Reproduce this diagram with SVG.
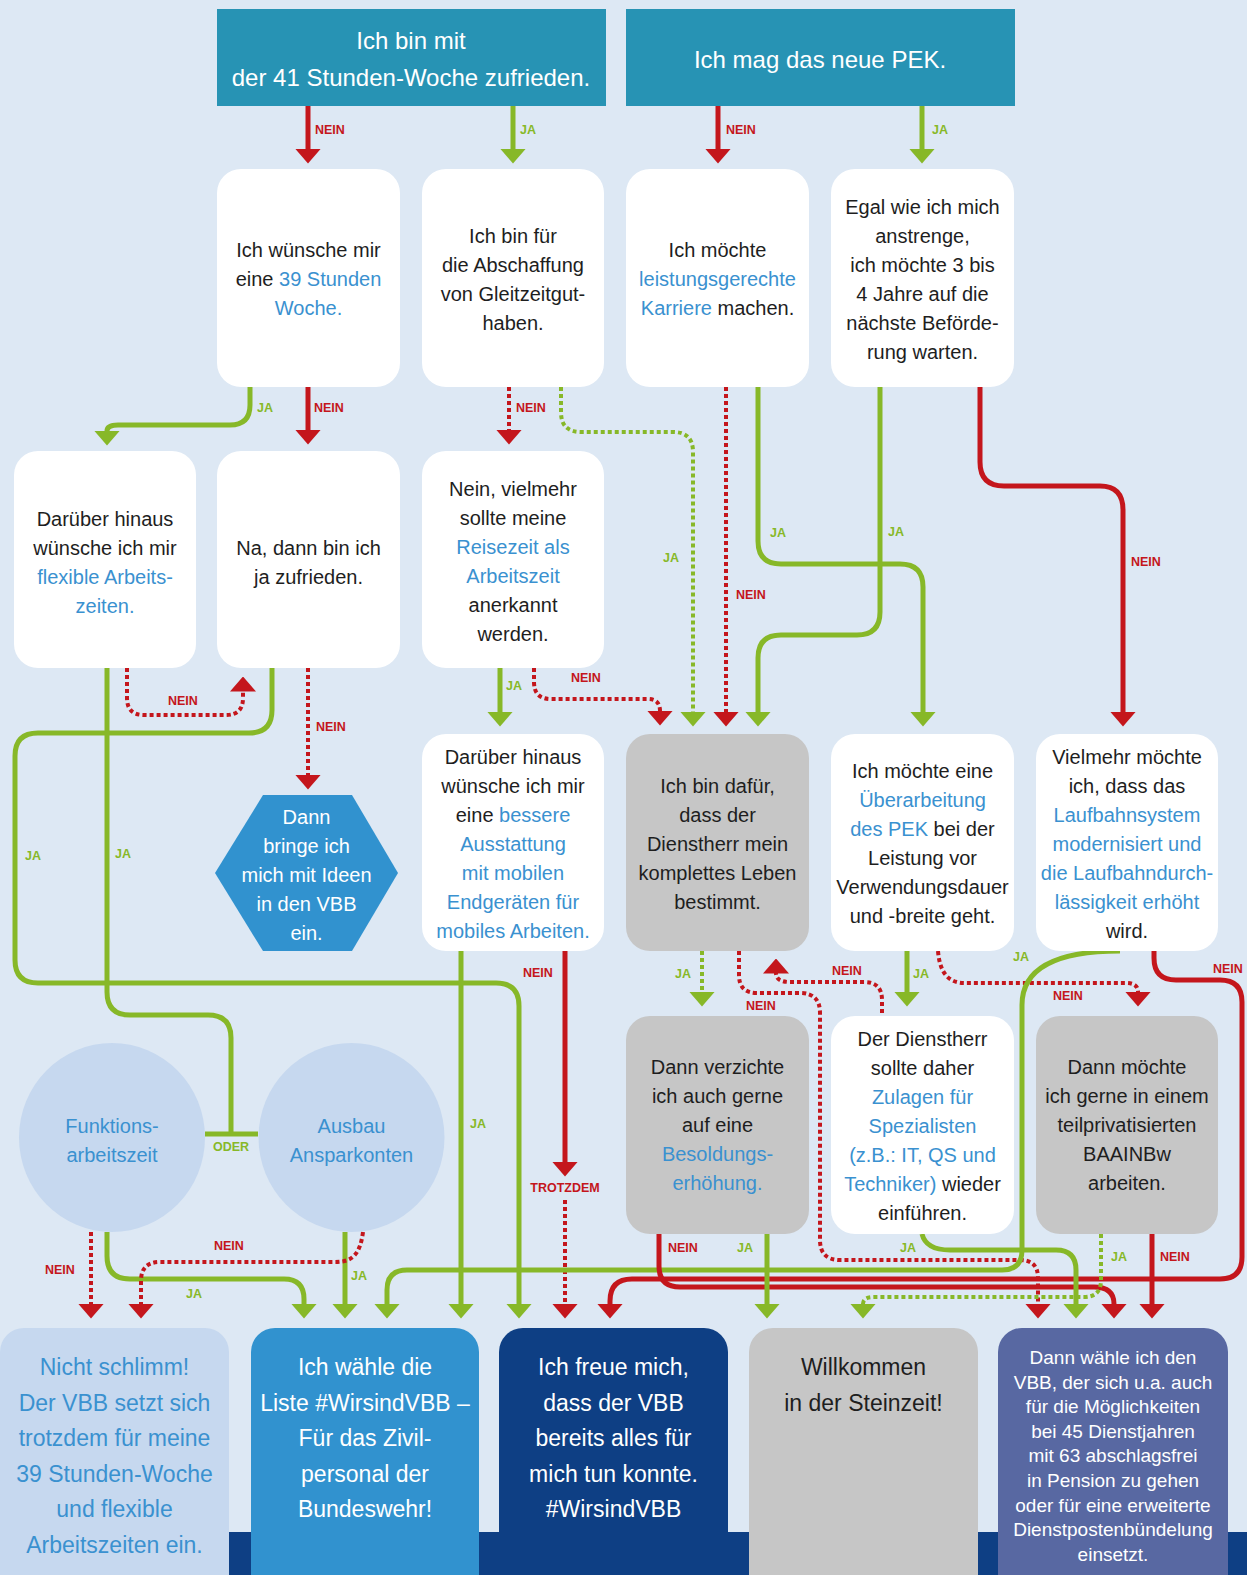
<svg xmlns="http://www.w3.org/2000/svg" width="1247" height="1575" viewBox="0 0 1247 1575">
<defs>
<style>
.t{font-family:"Liberation Sans",Arial,sans-serif;font-size:20px;fill:#1e1e1e;text-anchor:middle}
.w{fill:#ffffff}
.hl{fill:#3a91d0}
.big{font-size:23px}
.top{font-size:24px;fill:#ffffff}
.e5{font-size:19px;fill:#ffffff}
.box{fill:#ffffff}
.grey{fill:#c6c6c6}
.lbl{font-family:"Liberation Sans",Arial,sans-serif;font-size:12.5px;font-weight:bold}
.ln{fill:#c4161c}
.lj{fill:#87b828}
.r{fill:none;stroke:#c4161c;stroke-width:5}
.g{fill:none;stroke:#87b828;stroke-width:5}
.rd{fill:none;stroke:#c4161c;stroke-width:4;stroke-dasharray:4 3}
.gd{fill:none;stroke:#87b828;stroke-width:4;stroke-dasharray:4 3}
.ra{marker-end:url(#ar)}
.ga{marker-end:url(#ag)}
</style>
<marker id="ar" viewBox="0 0 15 26" refX="0.5" refY="13" markerWidth="15" markerHeight="26" markerUnits="userSpaceOnUse" orient="auto"><path d="M0,0 L15,13 L0,26 Z" fill="#c4161c"/></marker>
<marker id="ag" viewBox="0 0 15 26" refX="0.5" refY="13" markerWidth="15" markerHeight="26" markerUnits="userSpaceOnUse" orient="auto"><path d="M0,0 L15,13 L0,26 Z" fill="#87b828"/></marker>
</defs>
<rect x="0" y="0" width="1247" height="1575" fill="#dde8f4"/>
<rect x="0" y="1532" width="1247" height="43" fill="#0e3f84"/>

<g id="connectors">
<path class="r ra" d="M308,106 V149"/>
<path class="g ga" d="M513,106 V149"/>
<path class="r ra" d="M718,106 V149"/>
<path class="g ga" d="M922,106 V149"/>
<path class="g ga" d="M250,387 V405 Q250,425 230,425 H118 Q107,425 107,431"/>
<path class="r ra" d="M308,387 V430"/>
<path class="rd ra" d="M509,387 V430"/>
<path class="gd ga" d="M561,387 V412 Q561,432 581,432 H673 Q693,432 693,452 V712"/>
<path class="rd ra" d="M726,387 V712"/>
<path class="g ga" d="M758,387 V541 Q758,564 781,564 H900 Q923,564 923,587 V712"/>
<path class="g ga" d="M880,387 V612 Q880,635 857,635 H781 Q758,635 758,658 V712"/>
<path class="r ra" d="M980,387 V462 Q980,486 1004,486 H1100 Q1123,486 1123,510 V712"/>
<path class="g" d="M107,668 V992 Q107,1015 130,1015 H208 Q231,1015 231,1038 V1134"/>
<path class="g" stroke-width="6" d="M205,1134 H258"/>
<path class="rd ra" d="M127,668 V698 Q127,715 144,715 H226 Q243,715 243,698 V691"/>
<path class="g ga" d="M272,668 V710 Q272,733 249,733 H38 Q15,733 15,756 V960 Q15,983 38,983 H496 Q519,983 519,1006 V1304"/>
<path class="rd ra" d="M308,668 V775"/>
<path class="g ga" d="M500,668 V712"/>
<path class="rd ra" d="M534,668 V682 Q534,699 551,699 H648 Q660,699 660,711"/>
<path class="g ga" d="M461,951 V1304"/>
<path class="r ra" d="M565,951 V1162"/>
<path class="rd ra" d="M565,1200 V1304"/>
<path class="gd ga" d="M702,951 V992"/>
<path class="rd ra" d="M739,951 V975 Q739,993 757,993 H800 Q820,993 820,1013 V1240 Q820,1260 840,1260 H1020 Q1038,1260 1038,1278 V1304"/>
<path class="rd ra" d="M882,1013 V1000 Q882,982 864,982 H790 Q776,982 776,973"/>
<path class="g ga" d="M907,951 V992"/>
<path class="rd ra" d="M938,951 C940,975 950,983 965,983 H1126 Q1138,983 1138,992"/>
<path class="g ga" d="M1120,951 Q1022,951 1022,1005 V1250 Q1022,1270 1002,1270 H407 Q387,1270 387,1290 V1304"/>
<path class="r ra" d="M1154,951 V958 Q1154,980 1176,980 H1220 Q1242,980 1242,1002 V1257 Q1242,1279 1220,1279 H632 Q610,1279 610,1301 V1304"/>
<path class="rd ra" d="M91,1232 V1304"/>
<path class="g ga" d="M107,1232 V1256 Q107,1279 130,1279 H284 Q304,1279 304,1299 V1304"/>
<path class="g ga" d="M345,1232 V1304"/>
<path class="rd ra" d="M363,1232 C360,1255 352,1262 335,1262 H160 Q141,1262 141,1281 V1304"/>
<path class="r ra" d="M659,1234 V1266 Q659,1287 680,1287 H1094 Q1114,1287 1114,1304"/>
<path class="g ga" d="M767,1234 V1304"/>
<path class="g ga" d="M922,1234 Q926,1250 950,1250 H1056 Q1076,1250 1076,1270 V1304"/>
<path class="gd ga" d="M1101,1234 V1280 Q1101,1297 1084,1297 H874 Q863,1297 863,1304"/>
<path class="r ra" d="M1152,1234 V1304"/>

<text class="lbl ln" x="315" y="134">NEIN</text>
<text class="lbl lj" x="520" y="134">JA</text>
<text class="lbl ln" x="726" y="134">NEIN</text>
<text class="lbl lj" x="932" y="134">JA</text>
<text class="lbl lj" x="257" y="412">JA</text>
<text class="lbl ln" x="314" y="412">NEIN</text>
<text class="lbl ln" x="516" y="412">NEIN</text>
<text class="lbl lj" x="663" y="562">JA</text>
<text class="lbl ln" x="736" y="599">NEIN</text>
<text class="lbl lj" x="770" y="537">JA</text>
<text class="lbl lj" x="888" y="536">JA</text>
<text class="lbl ln" x="1131" y="566">NEIN</text>
<text class="lbl ln" x="168" y="705">NEIN</text>
<text class="lbl ln" x="316" y="731">NEIN</text>
<text class="lbl lj" x="25" y="860">JA</text>
<text class="lbl lj" x="115" y="858">JA</text>
<text class="lbl lj" x="506" y="690">JA</text>
<text class="lbl ln" x="571" y="682">NEIN</text>
<text class="lbl lj" x="470" y="1128">JA</text>
<text class="lbl ln" x="523" y="977">NEIN</text>
<text class="lbl ln" x="565" y="1192" text-anchor="middle">TROTZDEM</text>
<text class="lbl lj" x="231" y="1151" text-anchor="middle">ODER</text>
<text class="lbl ln" x="45" y="1274">NEIN</text>
<text class="lbl lj" x="186" y="1298">JA</text>
<text class="lbl ln" x="214" y="1250">NEIN</text>
<text class="lbl lj" x="351" y="1280">JA</text>
<text class="lbl lj" x="675" y="978">JA</text>
<text class="lbl ln" x="746" y="1010">NEIN</text>
<text class="lbl ln" x="832" y="975">NEIN</text>
<text class="lbl lj" x="913" y="978">JA</text>
<text class="lbl ln" x="1053" y="1000">NEIN</text>
<text class="lbl lj" x="1013" y="961">JA</text>
<text class="lbl ln" x="1213" y="973">NEIN</text>
<text class="lbl ln" x="668" y="1252">NEIN</text>
<text class="lbl lj" x="737" y="1252">JA</text>
<text class="lbl lj" x="900" y="1252">JA</text>
<text class="lbl lj" x="1111" y="1261">JA</text>
<text class="lbl ln" x="1160" y="1261">NEIN</text>
</g>

<g id="n-top1">
<rect x="217" y="9" width="389" height="97" fill="#2793b4"/>
<text class="t top" x="411" y="49">Ich bin mit<tspan x="411" dy="37">der 41 Stunden-Woche zufrieden.</tspan></text>
</g>
<g id="n-top2">
<rect x="626" y="9" width="389" height="97" fill="#2793b4"/>
<text class="t top" x="820" y="68">Ich mag das neue PEK.</text>
</g>

<g id="n-w1">
<rect class="box" x="217" y="169" width="183" height="218" rx="24"/>
<text class="t" x="308.5" y="257">Ich wünsche mir<tspan x="308.5" dy="29">eine <tspan class="hl">39 Stunden</tspan></tspan><tspan x="308.5" dy="29" class="hl">Woche.</tspan></text>
</g>
<g id="n-w2">
<rect class="box" x="422" y="169" width="182" height="218" rx="24"/>
<text class="t" x="513" y="243">Ich bin für<tspan x="513" dy="29">die Abschaffung</tspan><tspan x="513" dy="29">von Gleitzeitgut-</tspan><tspan x="513" dy="29">haben.</tspan></text>
</g>
<g id="n-w3">
<rect class="box" x="626" y="169" width="183" height="218" rx="24"/>
<text class="t" x="717.5" y="257">Ich möchte<tspan x="717.5" dy="29" class="hl">leistungsgerechte</tspan><tspan x="717.5" dy="29"><tspan class="hl">Karriere</tspan> machen.</tspan></text>
</g>
<g id="n-w4">
<rect class="box" x="831" y="169" width="183" height="218" rx="24"/>
<text class="t" x="922.5" y="214">Egal wie ich mich<tspan x="922.5" dy="29">anstrenge,</tspan><tspan x="922.5" dy="29">ich möchte 3 bis</tspan><tspan x="922.5" dy="29">4 Jahre auf die</tspan><tspan x="922.5" dy="29">nächste Beförde-</tspan><tspan x="922.5" dy="29">rung warten.</tspan></text>
</g>

<g id="n-r2a">
<rect class="box" x="14" y="451" width="182" height="217" rx="24"/>
<text class="t" x="105" y="526">Darüber hinaus<tspan x="105" dy="29">wünsche ich mir</tspan><tspan x="105" dy="29" class="hl">flexible Arbeits-</tspan><tspan x="105" dy="29" class="hl">zeiten.</tspan></text>
</g>
<g id="n-r2b">
<rect class="box" x="217" y="451" width="183" height="217" rx="24"/>
<text class="t" x="308.5" y="555">Na, dann bin ich<tspan x="308.5" dy="29">ja zufrieden.</tspan></text>
</g>
<g id="n-r2c">
<rect class="box" x="422" y="451" width="182" height="217" rx="24"/>
<text class="t" x="513" y="496">Nein, vielmehr<tspan x="513" dy="29">sollte meine</tspan><tspan x="513" dy="29" class="hl">Reisezeit als</tspan><tspan x="513" dy="29" class="hl">Arbeitszeit</tspan><tspan x="513" dy="29">anerkannt</tspan><tspan x="513" dy="29">werden.</tspan></text>
</g>

<g id="n-hex">
<polygon points="263,795 352,795 398,873 352,951 263,951 215,873" fill="#3192cf"/>
<text class="t w" x="306.5" y="824">Dann<tspan x="306.5" dy="29">bringe ich</tspan><tspan x="306.5" dy="29">mich mit Ideen</tspan><tspan x="306.5" dy="29">in den VBB</tspan><tspan x="306.5" dy="29">ein.</tspan></text>
</g>

<g id="n-r3a">
<rect class="box" x="422" y="734" width="182" height="217" rx="24"/>
<text class="t" x="513" y="764">Darüber hinaus<tspan x="513" dy="29">wünsche ich mir</tspan><tspan x="513" dy="29">eine <tspan class="hl">bessere</tspan></tspan><tspan x="513" dy="29" class="hl">Ausstattung</tspan><tspan x="513" dy="29" class="hl">mit mobilen</tspan><tspan x="513" dy="29" class="hl">Endgeräten für</tspan><tspan x="513" dy="29" class="hl">mobiles Arbeiten.</tspan></text>
</g>
<g id="n-r3b">
<rect class="grey" x="626" y="734" width="183" height="217" rx="24"/>
<text class="t" x="717.5" y="793">Ich bin dafür,<tspan x="717.5" dy="29">dass der</tspan><tspan x="717.5" dy="29">Dienstherr mein</tspan><tspan x="717.5" dy="29">komplettes Leben</tspan><tspan x="717.5" dy="29">bestimmt.</tspan></text>
</g>
<g id="n-r3c">
<rect class="box" x="831" y="734" width="183" height="217" rx="24"/>
<text class="t" x="922.5" y="778">Ich möchte eine<tspan x="922.5" dy="29" class="hl">Überarbeitung</tspan><tspan x="922.5" dy="29"><tspan class="hl">des PEK</tspan> bei der</tspan><tspan x="922.5" dy="29">Leistung vor</tspan><tspan x="922.5" dy="29">Verwendungsdauer</tspan><tspan x="922.5" dy="29">und -breite geht.</tspan></text>
</g>
<g id="n-r3d">
<rect class="box" x="1036" y="734" width="182" height="217" rx="24"/>
<text class="t" x="1127" y="764">Vielmehr möchte<tspan x="1127" dy="29">ich, dass das</tspan><tspan x="1127" dy="29" class="hl">Laufbahnsystem</tspan><tspan x="1127" dy="29" class="hl">modernisiert und</tspan><tspan x="1127" dy="29" class="hl">die Laufbahndurch-</tspan><tspan x="1127" dy="29" class="hl">lässigkeit erhöht</tspan><tspan x="1127" dy="29">wird.</tspan></text>
</g>

<g id="n-funktion">
<ellipse cx="112" cy="1137.5" rx="93" ry="94.5" fill="#c6d8ef"/>
<text class="t hl" x="112" y="1133">Funktions-<tspan x="112" dy="29">arbeitszeit</tspan></text>
</g>
<g id="n-ausbau">
<ellipse cx="351.5" cy="1137.5" rx="93" ry="94.5" fill="#c6d8ef"/>
<text class="t hl" x="351.5" y="1133">Ausbau<tspan x="351.5" dy="29">Ansparkonten</tspan></text>
</g>

<g id="n-r4a">
<rect class="grey" x="626" y="1016" width="183" height="218" rx="24"/>
<text class="t" x="717.5" y="1074">Dann verzichte<tspan x="717.5" dy="29">ich auch gerne</tspan><tspan x="717.5" dy="29">auf eine</tspan><tspan x="717.5" dy="29" class="hl">Besoldungs-</tspan><tspan x="717.5" dy="29" class="hl">erhöhung.</tspan></text>
</g>
<g id="n-r4b">
<rect class="box" x="831" y="1016" width="183" height="218" rx="24"/>
<text class="t" x="922.5" y="1046">Der Dienstherr<tspan x="922.5" dy="29">sollte daher</tspan><tspan x="922.5" dy="29" class="hl">Zulagen für</tspan><tspan x="922.5" dy="29" class="hl">Spezialisten</tspan><tspan x="922.5" dy="29" class="hl">(z.B.: IT, QS und</tspan><tspan x="922.5" dy="29"><tspan class="hl">Techniker)</tspan> wieder</tspan><tspan x="922.5" dy="29">einführen.</tspan></text>
</g>
<g id="n-r4c">
<rect class="grey" x="1036" y="1016" width="182" height="218" rx="24"/>
<text class="t" x="1127" y="1074">Dann möchte<tspan x="1127" dy="29">ich gerne in einem</tspan><tspan x="1127" dy="29">teilprivatisierten</tspan><tspan x="1127" dy="29">BAAINBw</tspan><tspan x="1127" dy="29">arbeiten.</tspan></text>
</g>

<g id="n-e1">
<rect x="0" y="1328" width="229" height="280" rx="24" fill="#c6d8ef"/>
<text class="t big hl" x="114.5" y="1375">Nicht schlimm!<tspan x="114.5" dy="35.5">Der VBB setzt sich</tspan><tspan x="114.5" dy="35.5">trotzdem für meine</tspan><tspan x="114.5" dy="35.5">39 Stunden-Woche</tspan><tspan x="114.5" dy="35.5">und flexible</tspan><tspan x="114.5" dy="35.5">Arbeitszeiten ein.</tspan></text>
</g>
<g id="n-e2">
<rect x="251" y="1328" width="228" height="280" rx="24" fill="#3192cf"/>
<text class="t big w" x="365" y="1375">Ich wähle die<tspan x="365" dy="35.5">Liste #WirsindVBB –</tspan><tspan x="365" dy="35.5">Für das Zivil-</tspan><tspan x="365" dy="35.5">personal der</tspan><tspan x="365" dy="35.5">Bundeswehr!</tspan></text>
</g>
<g id="n-e3">
<rect x="499" y="1328" width="229" height="280" rx="24" fill="#0e3f84"/>
<text class="t big w" x="613.5" y="1375">Ich freue mich,<tspan x="613.5" dy="35.5">dass der VBB</tspan><tspan x="613.5" dy="35.5">bereits alles für</tspan><tspan x="613.5" dy="35.5">mich tun konnte.</tspan><tspan x="613.5" dy="35.5">#WirsindVBB</tspan></text>
</g>
<g id="n-e4">
<rect x="749" y="1328" width="229" height="280" rx="24" fill="#c6c6c6"/>
<text class="t big" x="863.5" y="1375">Willkommen<tspan x="863.5" dy="35.5">in der Steinzeit!</tspan></text>
</g>
<g id="n-e5">
<rect x="998" y="1328" width="230" height="280" rx="24" fill="#5868a2"/>
<text class="t e5" x="1113" y="1364">Dann wähle ich den<tspan x="1113" dy="24.6">VBB, der sich u.a. auch</tspan><tspan x="1113" dy="24.6">für die Möglichkeiten</tspan><tspan x="1113" dy="24.6">bei 45 Dienstjahren</tspan><tspan x="1113" dy="24.6">mit 63 abschlagsfrei</tspan><tspan x="1113" dy="24.6">in Pension zu gehen</tspan><tspan x="1113" dy="24.6">oder für eine erweiterte</tspan><tspan x="1113" dy="24.6">Dienstpostenbündelung</tspan><tspan x="1113" dy="24.6">einsetzt.</tspan></text>
</g>
</svg>
